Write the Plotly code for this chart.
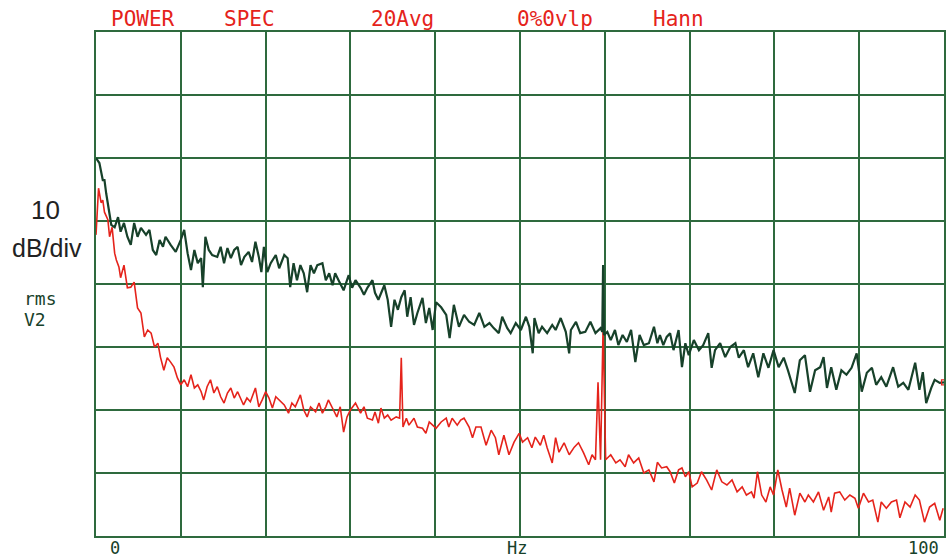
import plotly.graph_objects as go

# ---------------- data ----------------
# green trace: frequency (Hz) and level (dB, top of screen = 0 dB)
green_freq = [
    0.0, 0.4, 0.8, 1.0, 1.2, 1.6, 1.8, 2.2, 2.6, 2.9,
    3.3, 3.7, 4.1, 4.5, 4.9, 5.3, 5.9, 6.3, 6.7, 7.1,
    7.5, 7.9, 8.2, 8.8, 9.4, 10.0, 10.4, 10.8, 11.2, 11.6,
    12.0, 12.4, 12.6, 12.9, 13.3, 13.7, 14.3, 14.7, 15.1, 15.5,
    15.9, 16.3, 16.7, 17.1, 17.5, 18.0, 18.4, 18.8, 19.2, 19.5,
    19.8, 20.2, 20.6, 21.2, 21.6, 22.2, 22.6, 22.9, 23.3, 23.7,
    24.1, 24.5, 24.9, 25.3, 25.7, 26.1, 26.7, 27.1, 27.5, 27.9,
    28.2, 28.6, 29.2, 29.8, 30.2, 30.6, 31.2, 31.6, 32.0, 32.6,
    32.9, 33.3, 34.0, 34.4, 34.8, 35.2, 35.6, 36.0, 36.4, 36.7,
    37.1, 37.5, 37.9, 38.5, 38.9, 39.3, 39.7, 40.1, 40.7, 41.3,
    41.7, 42.2, 42.8, 43.4, 44.0, 44.6, 45.2, 45.8, 46.4, 46.9,
    47.5, 47.9, 48.5, 48.9, 49.5, 50.1, 50.7, 51.1, 51.5, 51.7,
    52.2, 52.6, 53.2, 53.8, 54.2, 54.8, 55.4, 55.8, 56.0, 56.6,
    57.1, 57.7, 58.3, 58.9, 59.5, 59.7, 59.8, 59.9, 60.3, 60.7,
    61.2, 61.6, 62.1, 62.6, 63.1, 63.6, 64.1, 64.6, 65.2, 65.8,
    66.2, 66.5, 66.9, 67.3, 67.7, 68.1, 68.7, 69.1, 69.5, 69.9,
    70.5, 71.1, 71.6, 72.2, 72.6, 73.0, 73.6, 74.2, 74.8, 75.4,
    75.8, 76.4, 76.9, 77.5, 78.1, 78.7, 79.3, 79.9, 80.5, 81.1,
    81.6, 82.4, 83.0, 83.6, 84.2, 84.8, 85.4, 85.8, 86.2, 86.7,
    87.3, 87.9, 88.5, 89.1, 89.7, 90.3, 90.9, 91.5, 92.0, 92.6,
    93.2, 94.0, 94.6, 95.2, 95.8, 96.6, 97.1, 97.5, 97.9, 98.5,
    98.9, 99.5, 100.0,
]
green_level = [
    -20.0, -20.8, -23.5, -23.5, -25.6, -28.7, -30.6, -31.0, -29.4, -31.7,
    -30.3, -32.5, -33.8, -30.3, -32.5, -31.1, -32.2, -31.4, -34.6, -35.4,
    -33.0, -34.1, -32.5, -33.8, -34.9, -33.0, -31.4, -35.1, -37.8, -34.6,
    -36.7, -35.9, -40.5, -32.5, -34.6, -35.4, -35.7, -34.1, -36.7, -34.3,
    -35.9, -34.6, -34.1, -37.0, -35.7, -34.9, -36.5, -33.3, -35.7, -38.1,
    -34.1, -38.1, -36.7, -35.4, -37.5, -35.4, -35.9, -40.5, -36.7, -39.4,
    -37.0, -38.3, -41.3, -37.0, -38.3, -37.0, -36.7, -39.4, -38.3, -40.2,
    -38.3, -39.4, -41.0, -38.6, -40.6, -39.4, -40.6, -41.7, -40.6, -39.4,
    -41.4, -42.5, -40.2, -42.5, -46.8, -42.5, -44.1, -42.1, -41.0, -45.2,
    -42.1, -46.5, -44.6, -42.2, -46.2, -43.8, -47.3, -42.9, -43.7, -44.9,
    -48.6, -43.3, -46.8, -44.9, -46.0, -46.5, -44.6, -46.8, -46.2, -47.0,
    -47.8, -45.2, -47.0, -47.8, -46.2, -47.3, -45.2, -46.8, -51.0, -45.4,
    -47.8, -46.8, -47.8, -46.5, -47.3, -45.4, -47.6, -51.0, -47.3, -46.0,
    -47.8, -47.6, -46.0, -47.8, -47.0, -47.6, -37.0, -48.1, -47.6, -48.9,
    -47.3, -49.7, -48.1, -49.2, -47.3, -52.4, -48.1, -49.7, -49.4, -46.8,
    -49.4, -48.1, -49.7, -48.4, -47.8, -50.5, -47.3, -53.2, -49.4, -51.3,
    -48.9, -50.5, -49.7, -47.8, -53.3, -50.5, -49.4, -51.6, -50.0, -49.4,
    -51.7, -50.5, -53.2, -51.0, -54.8, -51.0, -53.3, -50.5, -53.2, -51.7,
    -53.7, -57.3, -52.1, -51.3, -57.1, -53.7, -53.2, -51.6, -56.5, -53.2,
    -56.8, -53.7, -54.4, -53.3, -51.0, -57.1, -54.1, -53.3, -56.0, -54.8,
    -56.3, -53.2, -56.3, -55.7, -56.8, -52.5, -56.8, -54.0, -58.9, -56.5,
    -55.2, -55.7, -55.6,
]

# red trace
red_freq = [
    0.0, 0.3, 0.6, 0.8, 1.0, 1.4, 1.6, 1.9, 2.2, 2.4,
    2.7, 2.9, 3.3, 3.7, 4.1, 4.5, 4.9, 5.3, 5.7, 6.1,
    6.5, 6.9, 7.3, 7.6, 8.0, 8.4, 8.8, 9.2, 9.6, 10.0,
    10.4, 10.8, 11.2, 11.6, 12.0, 12.4, 12.7, 13.1, 13.5, 13.9,
    14.3, 14.7, 15.1, 15.5, 15.9, 16.3, 16.7, 17.1, 17.4, 17.8,
    18.2, 18.8, 19.2, 19.6, 20.0, 20.4, 20.8, 21.2, 21.8, 22.2,
    22.7, 23.1, 23.5, 24.1, 24.5, 24.9, 25.3, 25.9, 26.3, 26.7,
    27.1, 27.4, 28.0, 28.4, 28.8, 29.2, 29.6, 30.0, 30.6, 31.2,
    31.6, 32.0, 32.6, 32.9, 33.3, 33.6, 34.0, 34.4, 34.8, 35.4,
    35.8, 36.0, 36.2, 36.6, 36.9, 37.5, 37.9, 38.5, 38.9, 39.3,
    39.7, 40.1, 40.7, 41.3, 41.6, 42.0, 42.6, 43.0, 43.4, 44.0,
    44.4, 44.8, 45.4, 46.0, 46.6, 47.1, 47.5, 48.1, 48.7, 49.3,
    49.9, 50.3, 50.9, 51.4, 51.8, 52.4, 52.8, 53.2, 53.8, 54.2,
    54.6, 55.2, 55.8, 56.4, 56.9, 57.5, 58.1, 58.5, 58.9, 59.2,
    59.5, 59.8, 60.1, 60.7, 61.3, 61.8, 62.4, 62.8, 63.4, 64.0,
    64.6, 65.2, 65.8, 66.2, 66.7, 67.3, 67.7, 68.2, 68.7, 69.1,
    69.5, 69.9, 70.3, 70.9, 71.4, 72.0, 72.6, 73.2, 73.8, 74.4,
    75.0, 75.6, 76.2, 76.7, 77.3, 77.6, 78.0, 78.5, 79.0, 79.5,
    79.9, 80.4, 80.9, 81.4, 81.8, 82.4, 83.0, 83.6, 84.0, 84.6,
    85.2, 85.8, 86.4, 86.7, 87.1, 87.7, 88.3, 88.9, 89.5, 89.9,
    90.5, 91.1, 91.6, 92.2, 92.6, 93.2, 93.8, 94.4, 94.8, 95.4,
    96.0, 96.6, 97.1, 97.7, 98.3, 98.9, 99.5, 99.9,
]
red_level = [
    -32.2, -24.8, -27.1, -26.7, -28.6, -29.8, -32.5, -31.0, -35.1, -36.2,
    -37.3, -39.0, -37.0, -40.6, -40.5, -39.7, -43.8, -44.6, -48.4, -47.3,
    -47.8, -50.0, -49.4, -51.6, -53.7, -51.7, -52.4, -53.2, -54.9, -56.0,
    -55.2, -56.3, -54.4, -56.5, -56.0, -57.1, -58.4, -56.3, -55.2, -57.3,
    -56.3, -57.9, -58.9, -57.3, -56.5, -58.1, -57.1, -58.4, -59.2, -58.1,
    -58.7, -56.5, -59.5, -58.4, -57.1, -58.1, -59.7, -57.9, -58.7, -59.2,
    -60.5, -58.9, -59.5, -57.6, -60.0, -61.1, -59.5, -60.3, -58.9, -60.5,
    -59.5, -58.4, -60.0, -61.1, -59.5, -63.5, -61.1, -60.0, -58.9, -60.5,
    -59.5, -61.3, -61.6, -60.3, -62.1, -59.7, -61.3, -60.8, -61.6, -61.1,
    -61.3, -51.7, -62.7, -61.3, -62.4, -61.3, -62.7, -62.9, -63.7, -61.9,
    -62.4, -62.9, -61.9, -61.3, -62.7, -61.3, -62.4, -61.6, -61.3, -62.7,
    -64.4, -62.7, -62.7, -65.6, -63.2, -64.4, -67.1, -64.0, -67.1, -65.1,
    -63.7, -65.1, -64.4, -66.0, -64.3, -65.6, -64.0, -66.0, -68.4, -64.4,
    -66.7, -65.2, -67.1, -65.9, -65.2, -66.8, -68.7, -67.1, -67.9, -55.6,
    -67.9, -46.8, -67.9, -67.1, -68.4, -67.9, -69.0, -67.1, -68.4, -67.6,
    -70.0, -69.5, -71.4, -68.3, -69.2, -69.0, -69.8, -71.6, -69.5, -69.2,
    -70.6, -69.8, -72.2, -71.6, -69.8, -71.1, -72.7, -69.5, -71.4, -71.9,
    -71.1, -73.0, -72.2, -73.5, -73.0, -74.0, -69.8, -73.5, -74.6, -72.2,
    -73.5, -69.5, -72.7, -75.4, -72.4, -76.7, -73.2, -74.6, -73.5, -74.6,
    -73.0, -75.9, -73.8, -76.2, -73.2, -73.0, -74.3, -73.5, -74.0, -75.6,
    -73.2, -74.6, -74.3, -77.8, -74.6, -75.6, -74.6, -74.3, -77.1, -74.6,
    -75.4, -73.5, -74.3, -77.8, -75.4, -74.8, -77.5, -75.6,
]

header_words = ["POWER", "SPEC", "20Avg", "0%0vlp", "Hann"]
x_labels = ["0", "Hz", "100"]
x_range = [0, 100]
y_range = [-80, 0]

assert len(green_freq) == len(green_level)
assert len(red_freq) == len(red_level)

# ---------------- styling ----------------
GRID = "#2e6a3e"
GREEN = "#17412a"
RED = "#e5231b"
PLOT_FONT = "DejaVu Sans Mono"

fig = go.Figure()
fig.add_trace(go.Scatter(x=red_freq, y=red_level, mode="lines",
                         line=dict(color=RED, width=1.6), hoverinfo="skip"))
fig.add_trace(go.Scatter(x=green_freq, y=green_level, mode="lines",
                         line=dict(color=GREEN, width=2.2), hoverinfo="skip"))
fig.add_trace(go.Scatter(x=green_freq[-1:], y=green_level[-1:], mode="markers",
                         marker=dict(symbol="square-open", size=5, color=RED,
                                     line=dict(width=1.2, color=RED)),
                         hoverinfo="skip"))

fig.update_layout(
    width=948, height=557,
    margin=dict(l=96, r=2, t=32, b=21),
    paper_bgcolor="white", plot_bgcolor="white",
    showlegend=False,
)
fig.update_xaxes(range=x_range, dtick=10, showgrid=True, gridcolor=GRID, gridwidth=2,
                 showline=True, linecolor=GRID, linewidth=2, mirror=True,
                 showticklabels=False, ticks="", zeroline=False, fixedrange=True)
fig.update_yaxes(range=y_range, dtick=10, showgrid=True, gridcolor=GRID, gridwidth=2,
                 showline=True, linecolor=GRID, linewidth=2, mirror=True,
                 showticklabels=False, ticks="", zeroline=False, fixedrange=True)

# header words (red, plotter style)
header_x = [0.056, 0.181, 0.362, 0.541, 0.687]
for word, hx in zip(header_words, header_x):
    fig.add_annotation(text=word, x=hx, y=1, xref="paper", yref="paper",
                       xanchor="center", yanchor="bottom", showarrow=False,
                       yshift=-1, font=dict(family=PLOT_FONT, size=21, color=RED))

# bottom labels
fig.add_annotation(text=x_labels[0], x=x_range[0], y=0, xref="x", yref="paper",
                   xanchor="left", yanchor="top", showarrow=False, xshift=12, yshift=0,
                   font=dict(family=PLOT_FONT, size=17, color=GREEN))
fig.add_annotation(text=x_labels[1], x=50, y=0, xref="x", yref="paper",
                   xanchor="center", yanchor="top", showarrow=False, xshift=-3, yshift=0,
                   font=dict(family=PLOT_FONT, size=17, color=GREEN))
fig.add_annotation(text=x_labels[2], x=x_range[1], y=0, xref="x", yref="paper",
                   xanchor="right", yanchor="top", showarrow=False, xshift=-3, yshift=0,
                   font=dict(family=PLOT_FONT, size=17, color=GREEN))

# left scale labels
fig.add_annotation(text="10", x=-0.060, y=0.647, xref="paper", yref="paper",
                   xanchor="center", yanchor="middle", showarrow=False,
                   font=dict(family="Liberation Sans", size=26, color="#222222"))
fig.add_annotation(text="dB/div", x=-0.058, y=0.571, xref="paper", yref="paper",
                   xanchor="center", yanchor="middle", showarrow=False,
                   font=dict(family="Liberation Sans", size=25, color="#222222"))
fig.add_annotation(text="rms", x=-0.087, y=0.446, xref="paper", yref="paper",
                   xanchor="left", yanchor="bottom", showarrow=False,
                   font=dict(family=PLOT_FONT, size=18, color=GREEN))
fig.add_annotation(text="V2", x=-0.087, y=0.446, xref="paper", yref="paper",
                   xanchor="left", yanchor="top", showarrow=False, yshift=4,
                   font=dict(family=PLOT_FONT, size=18, color=GREEN))

fig.write_html(
    "out.html",
    config={"displayModeBar": False},
    post_script="document.body.style.margin='0';document.body.style.padding='0';",
)
